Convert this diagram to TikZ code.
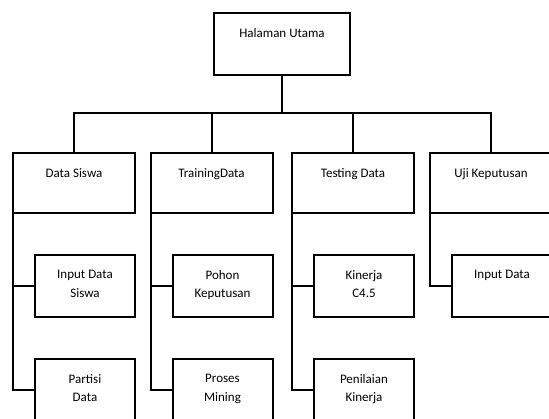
\documentclass[tikz,border=0pt]{standalone}
\usepackage{fontspec}
\setmainfont{Carlito}
\begin{document}
\begin{tikzpicture}[x=1pt,y=-1pt,
  box/.style={draw, line width=2pt, outer sep=0pt, inner sep=0pt, anchor=north west},
  mainbox/.style={box, minimum width=136pt, minimum height=62pt},
  menubox/.style={box, minimum width=122pt, minimum height=60pt},
  subbox/.style={box, minimum width=100pt, minimum height=62pt},
  txt/.style={anchor=north, inner sep=0pt, yshift=-15pt, align=center,
              font=\fontsize{13}{18.5}\selectfont},
  link/.style={line width=2pt, line cap=rect}]
\useasboundingbox (0,0) rectangle (549,418);

% root
\node[mainbox, label={[txt]north:Halaman Utama}] (home) at (214,13) {};

% first level menus
\node[menubox, label={[txt]north:Data Siswa}]     (c1) at (13,153) {};
\node[menubox, label={[txt]north:TrainingData}]   (c2) at (150.5,153) {};
\node[menubox, label={[txt]north:Testing Data}]   (c3) at (292,153) {};
\node[menubox, label={[txt]north:Uji Keputusan}]  (c4) at (430,153) {};

% sub menus
\node[subbox, label={[txt]north:Input Data\\Siswa}]  (k11) at (35,255) {};
\node[subbox, label={[txt]north:Partisi\\Data}]      (k12) at (35,359) {};
\node[subbox, label={[txt]north:Pohon\\Keputusan}]   (k21) at (172.5,255) {};
\node[subbox, label={[txt]north:Proses\\Mining}]     (k22) at (172.5,359) {};
\node[subbox, label={[txt]north:Kinerja\\C4.5}]      (k31) at (314,255) {};
\node[subbox, label={[txt]north:Penilaian\\Kinerja}] (k32) at (314,359) {};
\node[subbox, label={[txt]north:Input Data}]         (k41) at (452,255) {};

% root to first level
\path (home.south) ++(0,38) coordinate (hub);
\draw[link] (home.south) -- (hub);
\draw[link] (c1.north) |- (hub) -| (c4.north);
\draw[link] (c2.north) -- (c2.north |- hub);
\draw[link] (c3.north) -- (c3.north |- hub);

% first level to sub menus
\draw[link] (c1.south west) |- (k12.west);
\draw[link] (c1.south west |- k11.west) -- (k11.west);
\draw[link] (c2.south west) |- (k22.west);
\draw[link] (c2.south west |- k21.west) -- (k21.west);
\draw[link] (c3.south west) |- (k32.west);
\draw[link] (c3.south west |- k31.west) -- (k31.west);
\draw[link] (c4.south west) |- (k41.west);
\end{tikzpicture}
\end{document}
